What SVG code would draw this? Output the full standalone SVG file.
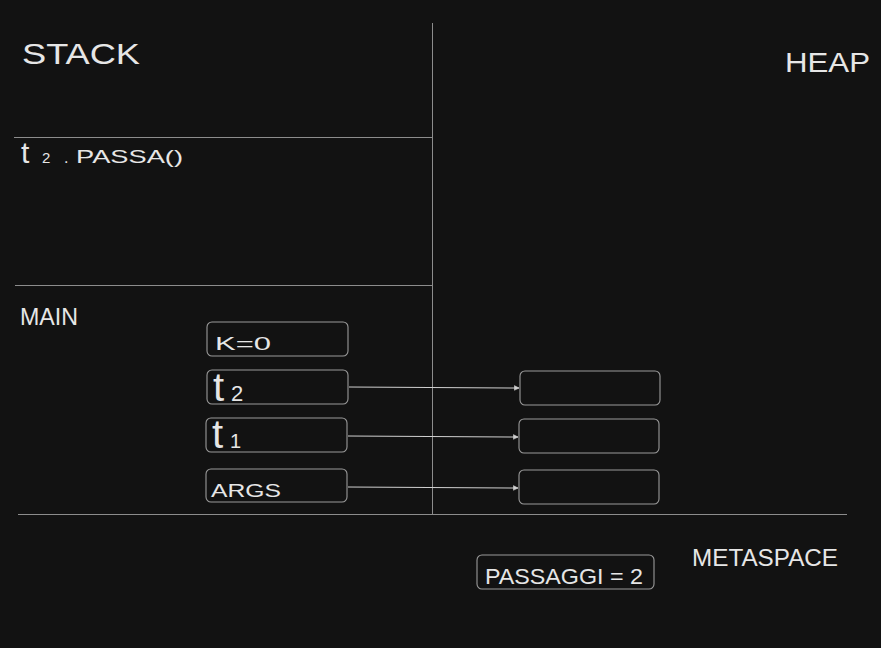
<svg xmlns="http://www.w3.org/2000/svg" width="881" height="648" viewBox="0 0 881 648">
<defs>
<style>
.bg{fill:#121212}
.div{stroke:#8c8c8c;stroke-width:1;fill:none}
.box{fill:none;stroke:#9a9a9a;stroke-width:1.1}
.conn{stroke:#cfcfcf;stroke-width:1.1;fill:none}
.t{fill:#e6e6e6;font-family:"Liberation Sans",Arial,sans-serif}
</style>
<marker id="ah" viewBox="0 0 10 10" refX="9" refY="5" markerWidth="6" markerHeight="6" orient="auto" markerUnits="userSpaceOnUse">
<path d="M1,1 L9,5 L1,9" fill="#cfcfcf" stroke="#cfcfcf" stroke-width="1"/>
</marker>
</defs>
<rect class="bg" x="0" y="0" width="881" height="648"/>
<g id="dividers">
<line class="div" x1="432.5" y1="23" x2="432.5" y2="514"/>
<line class="div" x1="14" y1="137.5" x2="432" y2="137.5"/>
<line class="div" x1="15" y1="285.5" x2="432" y2="285.5"/>
<line class="div" x1="18" y1="514.5" x2="847" y2="514.5"/>
</g>
<g id="labels">
<text class="t" x="22" y="64" font-size="30" textLength="118" lengthAdjust="spacingAndGlyphs">STACK</text>
<text class="t" x="785" y="72" font-size="28" textLength="85" lengthAdjust="spacingAndGlyphs">HEAP</text>
<text class="t" y="163"><tspan x="21" font-size="30">t</tspan><tspan x="42" font-size="15">2</tspan><tspan x="64" font-size="16">.</tspan><tspan x="76" font-size="19" textLength="107" lengthAdjust="spacingAndGlyphs">PASSA()</tspan></text>
<text class="t" x="20" y="325" font-size="24" textLength="58" lengthAdjust="spacingAndGlyphs">MAIN</text>
<text class="t" x="692" y="566" font-size="24" textLength="146" lengthAdjust="spacingAndGlyphs">METASPACE</text>
</g>
<g id="connectors">
<line class="conn" x1="349" y1="387" x2="519" y2="388" marker-end="url(#ah)"/>
<line class="conn" x1="348" y1="436" x2="518" y2="437" marker-end="url(#ah)"/>
<line class="conn" x1="348" y1="487" x2="518" y2="488" marker-end="url(#ah)"/>
</g>
<g id="node-k">
<rect class="box" x="207" y="322" width="141" height="34" rx="5"/>
<text class="t" x="215" y="350" font-size="19" textLength="56" lengthAdjust="spacingAndGlyphs">K=0</text>
</g>
<g id="node-t2">
<rect class="box" x="207" y="370" width="141" height="34" rx="5"/>
<text class="t" y="401"><tspan x="213" font-size="40">t</tspan><tspan x="231" font-size="22">2</tspan></text>
</g>
<g id="node-t1">
<rect class="box" x="206" y="418" width="141" height="34" rx="5"/>
<text class="t" y="448"><tspan x="212" font-size="40">t</tspan><tspan x="230" font-size="20">1</tspan></text>
</g>
<g id="node-args">
<rect class="box" x="206" y="469" width="141" height="33" rx="5"/>
<text class="t" x="211" y="497" font-size="18" textLength="70" lengthAdjust="spacingAndGlyphs">ARGS</text>
</g>
<g id="heap-obj-1">
<rect class="box" x="520" y="371" width="140" height="34" rx="5"/>
</g>
<g id="heap-obj-2">
<rect class="box" x="519" y="419" width="140" height="34" rx="5"/>
</g>
<g id="heap-obj-3">
<rect class="box" x="519" y="470" width="140" height="34" rx="5"/>
</g>
<g id="node-passaggi">
<rect class="box" x="477" y="555" width="177" height="34" rx="5"/>
<text class="t" x="485" y="584" font-size="22" textLength="158" lengthAdjust="spacingAndGlyphs">PASSAGGI = 2</text>
</g>
</svg>
